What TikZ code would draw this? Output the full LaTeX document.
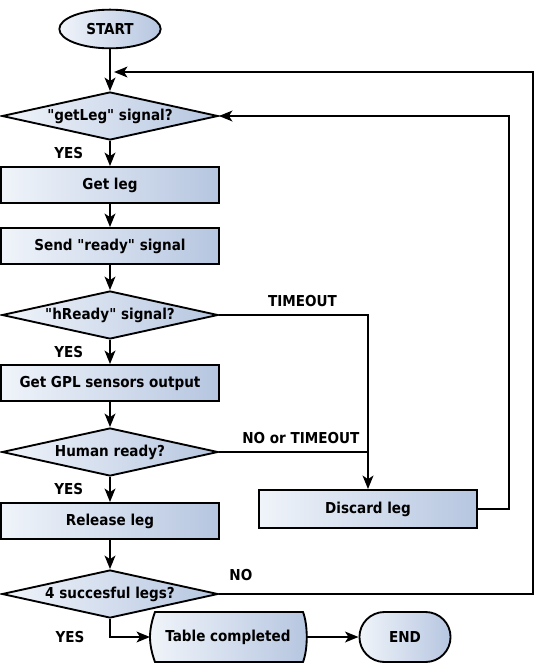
\documentclass[tikz,border=0pt]{standalone}
\usepackage{fontspec}
\setmainfont{DejaVu Sans Condensed}
\usetikzlibrary{shapes.geometric}
\usetikzlibrary{shapes.misc}
\usetikzlibrary{arrows.meta}
\definecolor{flowleft}{RGB}{240,244,250}
\definecolor{flowright}{RGB}{182,198,224}
\tikzset{every node/.style={font=\bfseries\fontsize{11.3}{13}\selectfont}}
\tikzset{flowshade/.style={draw=black, line width=1.4pt, left color=flowleft, right color=flowright}}
\tikzset{procbox/.style={flowshade, shape=rectangle, minimum width=163pt, minimum height=27pt}}
\tikzset{decision/.style={flowshade, shape=diamond, aspect=4.5, inner sep=0pt, minimum width=162pt, minimum height=36pt}}

\begin{document}
\begin{tikzpicture}[x=0.75pt, y=-0.75pt, line width=1.7pt, >={Stealth[length=10pt,width=8pt,inset=2.5pt]}]
		\useasboundingbox (0,0) rectangle (536,664);
		\node[flowshade, shape=ellipse, minimum width=76pt, minimum height=29pt] (start) at (110,29) {START};
		\node[decision] (getleg) at (110,116) {\textquotedbl getLeg\textquotedbl{} signal?};
		\node[procbox] (get) at (110,185) {Get leg};
		\node[procbox] (send) at (110,246) {Send \textquotedbl ready\textquotedbl{} signal};
		\node[decision] (hready) at (110,315) {\textquotedbl hReady\textquotedbl{} signal?};
		\node[procbox] (gpl) at (110,383) {Get GPL sensors output};
		\node[decision] (human) at (110,452) {Human ready?};
		\node[procbox] (release) at (110,521) {Release leg};
		\node[procbox, minimum width=164pt, minimum height=28.5pt] (discard) at (368,509) {Discard leg};
		\node[decision] (four) at (110,594) {4 succesful legs?};
		\path[flowshade] (155,612) -- (303,612) .. controls (308,625) and (308,649) .. (303,662)
			-- (155,662) .. controls (152,654) and (150,645) .. (150,637)
			.. controls (150,629) and (152,620) .. (155,612) -- cycle;
		\node (table) at (228,637) {Table completed};
		\coordinate (tablein) at (150,637);
		\coordinate (tableout) at (307,637);
		\node[flowshade, shape=rounded rectangle, minimum width=75pt, minimum height=37.5pt] (end) at (405,637) {END};
		\coordinate (merge) at (114,72);
		\coordinate (inner) at (509,116);
		\coordinate (outer) at (533,72);
		\path [->] (start) edge (getleg);
		\path [->] (getleg) edge node[left=16pt]{YES} (get);
		\path [->] (get) edge (send);
		\path [->] (send) edge (hready);
		\path [->] (hready) edge node[left=16pt]{YES} (gpl);
		\path [->] (gpl) edge (human);
		\path [->] (human) edge node[left=16pt]{YES} (release);
		\path [->] (release) edge (four);
		\draw [->] (hready.east) -| node[pos=0.28, above=2pt]{TIMEOUT} (discard.north);
		\draw (human.east) -- node[above=2pt, pos=0.55]{NO or TIMEOUT} (discard.north |- human.east);
		\draw [->] (discard.east) -| (inner) -- (getleg.east);
		\draw [->] (four.east) -- node[pos=0.07, above=6pt]{NO} (outer |- four.east) -- (outer) -- (merge);
		\draw [->] (four.south) |- node[pos=0.5, left=15pt]{YES} (tablein);
		\path [->] (tableout) edge (end);
	\end{tikzpicture}
\end{document}
